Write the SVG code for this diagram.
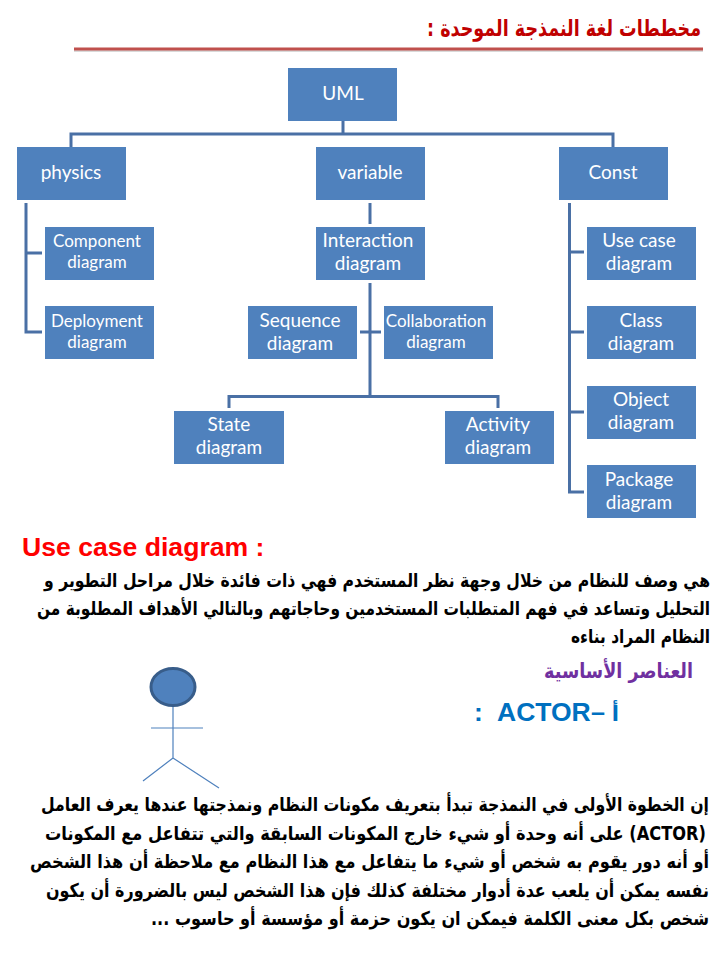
<svg xmlns="http://www.w3.org/2000/svg" width="720" height="960" viewBox="0 0 720 960">
<style>
.box{fill:#4f81bd}
.lbl{font-family:Lato,"Noto Sans",sans-serif;font-size:19px;fill:#fff;text-anchor:middle}
.sm{font-size:17px}
.con{fill:none;stroke:#4a70a5;stroke-width:3}
.ar{font-family:"DejaVu Sans",sans-serif;font-weight:bold;font-size:14px;fill:#000;direction:rtl;text-anchor:start}
.act{fill:none;stroke:#4f81bd;stroke-width:1.2}
.blue{font-family:"Liberation Sans",Arial,sans-serif;font-weight:bold;font-size:26.500px;fill:#0070c0}
</style>
<rect width="720" height="960" fill="#fff"/>
<g id="title">
<text transform="translate(701 36) scale(1 1.44)" class="ar" style="font-size:16px;fill:#c00000" textLength="274" lengthAdjust="spacingAndGlyphs">مخططات لغة النمذجة الموحدة :</text>
<line x1="74" y1="51" x2="703" y2="51" stroke="#d9d9d9" stroke-width="2"/>
<line x1="74" y1="49" x2="703" y2="49" stroke="#c0504d" stroke-width="3"/>
</g>
<g id="connectors">
<path class="con" d="M343 121V134M71 147V134H613V147"/>
<path class="con" d="M42 253H26M26 203V332H42"/>
<path class="con" d="M370 203V224"/>
<path class="con" d="M370 283V396.500M360 332H381M229 408V396.500H498V408"/>
<path class="con" d="M569.500 203V492H584M569.500 252H584M569.500 332H584M569.500 412H584"/>
</g>
<g id="uml"><rect class="box" x="288" y="68" width="109" height="53"/><text class="lbl" x="343" y="100">UML</text></g>
<g id="physics"><rect class="box" x="17" y="147" width="109" height="53"/><text class="lbl" x="71" y="179">physics</text></g>
<g id="variable"><rect class="box" x="316" y="147" width="109" height="53"/><text class="lbl" x="370" y="179">variable</text></g>
<g id="const"><rect class="box" x="559" y="147" width="109" height="53"/><text class="lbl" x="613" y="179">Const</text></g>
<g id="component"><rect class="box" x="45" y="227" width="109" height="53"/><text class="lbl sm" x="97" y="247">Component</text><text class="lbl sm" x="97" y="268">diagram</text></g>
<g id="deployment"><rect class="box" x="45" y="306" width="109" height="53"/><text class="lbl sm" x="97" y="327">Deployment</text><text class="lbl sm" x="97" y="348">diagram</text></g>
<g id="interaction"><rect class="box" x="316" y="227" width="109" height="53"/><text class="lbl" x="368" y="247">Interaction</text><text class="lbl" x="368" y="270">diagram</text></g>
<g id="sequence"><rect class="box" x="248" y="306" width="109" height="53"/><text class="lbl" x="300" y="327">Sequence</text><text class="lbl" x="300" y="350">diagram</text></g>
<g id="collaboration"><rect class="box" x="384" y="306" width="109" height="53"/><text class="lbl sm" x="436" y="327">Collaboration</text><text class="lbl sm" x="436" y="348">diagram</text></g>
<g id="state"><rect class="box" x="174" y="411" width="110" height="53"/><text class="lbl" x="229" y="431">State</text><text class="lbl" x="229" y="454">diagram</text></g>
<g id="activity"><rect class="box" x="445" y="411" width="109" height="53"/><text class="lbl" x="498" y="431">Activity</text><text class="lbl" x="498" y="454">diagram</text></g>
<g id="usecase"><rect class="box" x="587" y="227" width="109" height="53"/><text class="lbl" x="639" y="247">Use case</text><text class="lbl" x="639" y="270">diagram</text></g>
<g id="class"><rect class="box" x="587" y="306" width="109" height="53"/><text class="lbl" x="641" y="327">Class</text><text class="lbl" x="641" y="350">diagram</text></g>
<g id="object"><rect class="box" x="587" y="386" width="109" height="53"/><text class="lbl" x="641" y="406">Object</text><text class="lbl" x="641" y="429">diagram</text></g>
<g id="package"><rect class="box" x="587" y="465" width="109" height="53"/><text class="lbl" x="639" y="486">Package</text><text class="lbl" x="639" y="509">diagram</text></g>
<text x="22" y="556" font-family="Liberation Sans,Arial,sans-serif" font-weight="bold" font-size="26.600" fill="#f00">Use case diagram :</text>
<g id="intro">
<text class="ar" transform="translate(710 587) scale(1 1.36)" textLength="666" lengthAdjust="spacingAndGlyphs">هي وصف للنظام من خلال وجهة نظر المستخدم فهي ذات فائدة خلال مراحل التطوير و</text>
<text class="ar" transform="translate(710 615) scale(1 1.36)" textLength="673" lengthAdjust="spacingAndGlyphs">التحليل وتساعد في فهم المتطلبات المستخدمين وحاجاتهم وبالتالي الأهداف المطلوبة من</text>
<text class="ar" transform="translate(710 643) scale(1 1.36)" textLength="139" lengthAdjust="spacingAndGlyphs">النظام المراد بناءه</text>
</g>
<text class="ar" transform="translate(693 678) scale(1 1.3)" style="font-size:16px;fill:#7030a0" textLength="149" lengthAdjust="spacingAndGlyphs">العناصر الأساسية</text>
<g id="actor-heading">
<text x="474" y="721" class="blue">:</text>
<text x="497" y="721" class="blue">ACTOR</text>
<text x="591" y="721" class="blue" textLength="14" lengthAdjust="spacingAndGlyphs">–</text>
<text class="ar" x="619" y="721" style="font-size:21px;fill:#0070c0">أ</text>
</g>
<g id="actor">
<ellipse cx="173" cy="687" rx="22" ry="18.500" fill="#4f81bd" stroke="#385d8a" stroke-width="3"/>
<path class="act" d="M173 707V758M151 728H203M173 758L143 781M173 758L219 788"/>
</g>
<g id="para">
<text class="ar" transform="translate(709 811) scale(1 1.36)" textLength="668" lengthAdjust="spacingAndGlyphs">إن الخطوة الأولى في النمذجة تبدأ بتعريف مكونات النظام ونمذجتها عندها يعرف العامل</text>
<text class="ar" transform="translate(706 840) scale(1 1.36)" textLength="661" lengthAdjust="spacingAndGlyphs">(ACTOR) على أنه وحدة أو شيء خارج المكونات السابقة والتي تتفاعل مع المكونات</text>
<text class="ar" transform="translate(709 868) scale(1 1.36)" textLength="679" lengthAdjust="spacingAndGlyphs">أو أنه دور يقوم به شخص أو شيء ما يتفاعل مع هذا النظام مع ملاحظة أن هذا الشخص</text>
<text class="ar" transform="translate(709 897) scale(1 1.36)" textLength="663" lengthAdjust="spacingAndGlyphs">نفسه يمكن أن يلعب عدة أدوار مختلفة كذلك فإن هذا الشخص ليس بالضرورة أن يكون</text>
<text class="ar" transform="translate(709 925) scale(1 1.36)" textLength="558" lengthAdjust="spacingAndGlyphs">شخص بكل معنى الكلمة فيمكن ان يكون حزمة أو مؤسسة أو حاسوب ...</text>
</g>
</svg>
